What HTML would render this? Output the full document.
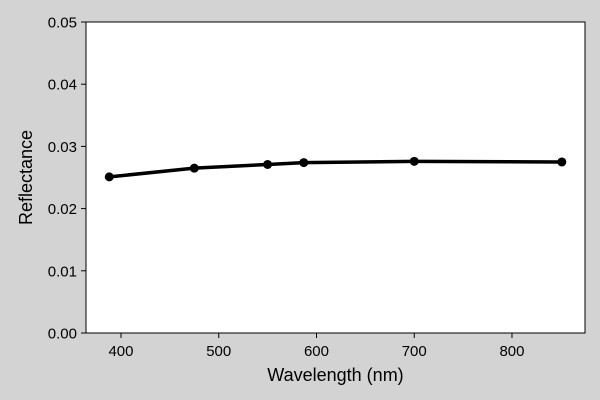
<!DOCTYPE html>
<html><head><meta charset="utf-8"><style>
html,body{margin:0;padding:0;background:#d3d3d3;}
svg{display:block;font-family:"Liberation Sans","DejaVu Sans",sans-serif;}
</style></head><body>
<svg id="chart" width="600" height="400">
<rect x="0" y="0" width="600" height="400" fill="#d3d3d3"/>
<rect x="86" y="22" width="499" height="311" fill="#ffffff" stroke="#000" stroke-width="1"/>
<g id="xticks"></g>
<g id="yticks"></g>
<g id="series"></g>
<text x="335.5" y="381" font-size="18" text-anchor="middle">Wavelength (nm)</text>
<text x="32" y="177.5" font-size="18" text-anchor="middle" transform="rotate(-90 32 177.5)">Reflectance</text>
</svg>
<script>
const wavelengths = [388, 475, 550, 587, 700, 851];
const reflectance = [0.0251, 0.0265, 0.0271, 0.0274, 0.0276, 0.0275];
const xTickLabels = [400, 500, 600, 700, 800];
const yTickLabels = ["0.00", "0.01", "0.02", "0.03", "0.04", "0.05"];
const NS = "http://www.w3.org/2000/svg";
const X0 = 86, X1 = 585, Y0 = 333, Y1 = 22;
const xMin = 364.2, xMax = 874.7, yMin = 0, yMax = 0.05;
function xs(v){ return X0 + (v - xMin) / (xMax - xMin) * (X1 - X0); }
function ys(v){ return Y0 - (v - yMin) / (yMax - yMin) * (Y0 - Y1); }
function mk(tag, attrs){ const e = document.createElementNS(NS, tag); for (const k in attrs) e.setAttribute(k, attrs[k]); return e; }
const gx = document.getElementById('xticks');
xTickLabels.forEach(v => {
  const x = xs(v);
  const t = mk('line', {x1:x, x2:x, y1:Y0, y2:Y0+5, stroke:'#000'});
  
  
  gx.appendChild(t);
  const l = mk('text', {x:x, y:Y0+23, 'font-size':15, 'text-anchor':'middle'});
  l.textContent = v;
  
  
  gx.appendChild(l);
});
const gy = document.getElementById('yticks');
yTickLabels.forEach(s => {
  const y = ys(parseFloat(s));
  const t = mk('line', {x1:X0-5, x2:X0, y1:y, y2:y, stroke:'#000'});
  
  
  gy.appendChild(t);
  const l = mk('text', {x:X0-9, y:y+5.5, 'font-size':15, 'text-anchor':'end'});
  l.textContent = s;
  
  
  gy.appendChild(l);
});
const gs = document.getElementById('series');
const pts = wavelengths.map((w,i) => xs(w).toFixed(2) + ',' + ys(reflectance[i]).toFixed(2)).join(' ');
const line = mk('polyline', {points:pts, fill:'none', stroke:'#000', 'stroke-width':3.5, 'stroke-linejoin':'round'});


gs.appendChild(line);
wavelengths.forEach((w,i) => {
  const c = mk('circle', {cx:xs(w), cy:ys(reflectance[i]), r:4.5, fill:'#000'});
  
  
  gs.appendChild(c);
});
</script>
</body></html>
